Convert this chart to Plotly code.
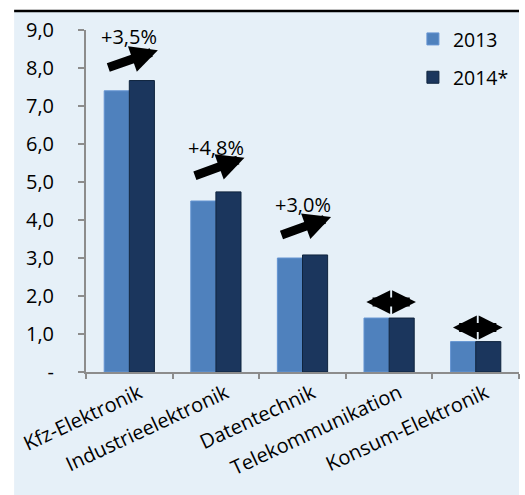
import plotly.graph_objects as go

categories = ["Kfz-Elektronik", "Industrieelektronik", "Datentechnik", "Telekommunikation", "Konsum-Elektronik"]
values_2013 = [7.40, 4.50, 3.00, 1.42, 0.80]
values_2014 = [7.67, 4.74, 3.08, 1.42, 0.80]
growth_labels = ["+3,5%", "+4,8%", "+3,0%", "", ""]
trend = ["up", "up", "up", "flat", "flat"]
y_tickvals = [0, 1, 2, 3, 4, 5, 6, 7, 8, 9]
y_ticktext = ["-", "1,0", "2,0", "3,0", "4,0", "5,0", "6,0", "7,0", "8,0", "9,0"]

# annotation placement (offsets above the 2014 bar, in value units)
arrow_tail_off = [0.33, 0.41, 0.51, 0.42, 0.37]
arrow_tip_off = [0.80, 0.90, 1.00, 0.42, 0.37]
label_off = [1.16, 1.17, 1.33, 0, 0]

FONT = "Open Sans"
BG = "#E6F0F8"

fig = go.Figure()
fig.add_trace(go.Bar(x=categories, y=values_2013, name="2013",
                     marker=dict(color="#4F81BD", line=dict(color="#6494D2", width=1)),
                     legendgroup="a"))
fig.add_trace(go.Bar(x=categories, y=values_2014, name="2014*",
                     marker=dict(color="#1B365D", line=dict(color="#0F243E", width=1)),
                     legendgroup="b"))

annotations = []
for i, (v, lab, t) in enumerate(zip(values_2014, growth_labels, trend)):
    if t == "up":
        annotations.append(dict(x=i + 0.33, y=v + arrow_tip_off[i], ax=i - 0.26, ay=v + arrow_tail_off[i],
                                xref="x", yref="y", axref="x", ayref="y",
                                showarrow=True, arrowhead=2, arrowsize=0.6, arrowwidth=9,
                                arrowcolor="black", text="", standoff=0, startstandoff=0))
        annotations.append(dict(x=i, y=v + label_off[i], xref="x", yref="y", text=lab,
                                showarrow=False, font=dict(family=FONT, size=20, color="black")))
    else:
        annotations.append(dict(x=i + 0.31, y=v + arrow_tip_off[i], ax=i - 0.28, ay=v + arrow_tail_off[i],
                                xref="x", yref="y", axref="x", ayref="y",
                                showarrow=True, arrowhead=2, arrowside="end+start",
                                arrowsize=0.53, arrowwidth=9,
                                arrowcolor="black", text="", standoff=0, startstandoff=0))

shapes = [
    dict(type="rect", xref="paper", yref="paper", x0=-0.166, x1=1.0, y0=-0.4, y1=1.0526,
         fillcolor=BG, line=dict(width=0), layer="below"),
    dict(type="line", xref="paper", yref="paper", x0=-0.166, x1=1.0, y0=1.0555, y1=1.0555,
         line=dict(color="black", width=2.5)),
]

fig.update_layout(
    width=525, height=495,
    margin=dict(l=86, r=6, t=30, b=123),
    paper_bgcolor="white", plot_bgcolor=BG,
    barmode="group", bargap=0.42, bargroupgap=0,
    font=dict(family=FONT, size=19, color="black"),
    showlegend=True,
    legend=dict(x=0.755, y=1.03, xanchor="left", yanchor="top", bgcolor="rgba(0,0,0,0)",
                font=dict(family=FONT, size=19.5), tracegroupgap=10, traceorder="grouped"),
    annotations=annotations,
    shapes=shapes,
)
fig.update_xaxes(showline=True, linecolor="#8C8C8C", linewidth=2, ticks="outside",
                 tickson="boundaries", ticklen=5, tickcolor="#8C8C8C", tickwidth=2,
                 tickangle=-25, showgrid=False, tickfont=dict(family=FONT, size=20),
                 ticklabelshift=10)
fig.update_yaxes(range=[0, 9], tickvals=y_tickvals, ticktext=y_ticktext,
                 showline=True, linecolor="#8C8C8C", linewidth=2, ticks="outside",
                 ticklen=6, tickcolor="#8C8C8C", tickwidth=2, showgrid=False,
                 zeroline=False, ticklabelstandoff=20, tickfont=dict(family=FONT, size=20))

fig.write_html("out.html")
